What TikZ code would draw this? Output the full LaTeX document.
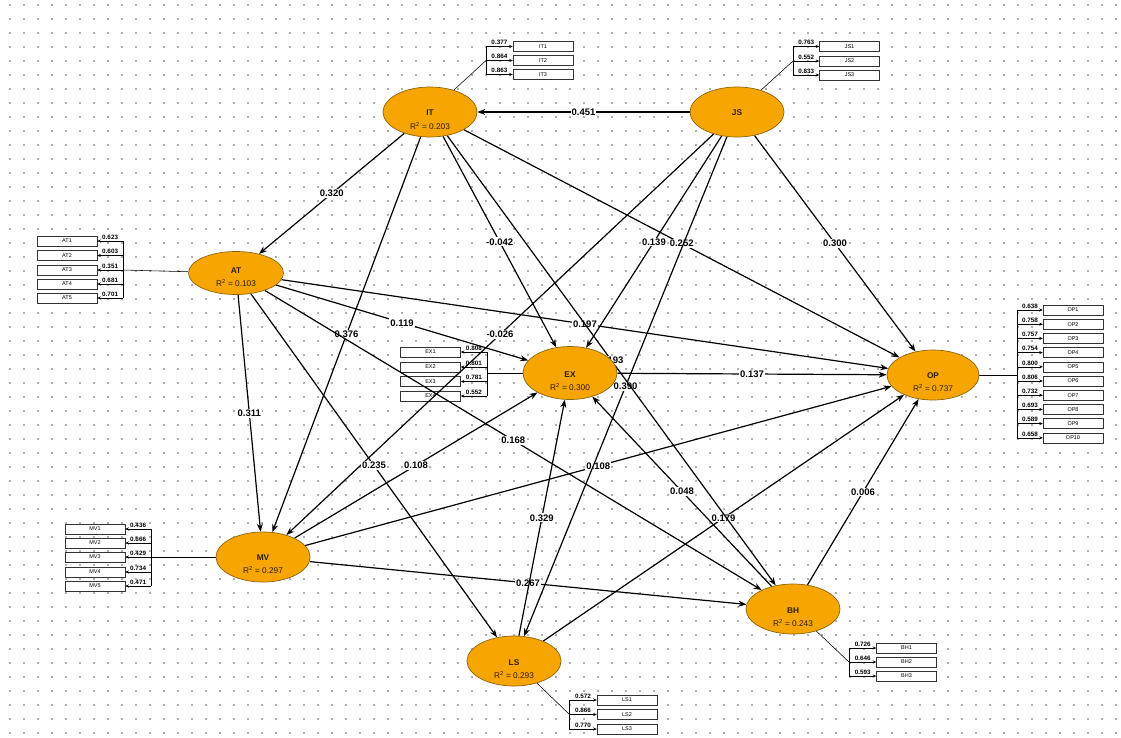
\documentclass[tikz,border=0pt]{standalone}
\usepackage{fontspec}
\setmainfont{Liberation Sans}
\usetikzlibrary{arrows.meta,shapes.geometric}
\pgfdeclarelayer{bg}
\pgfdeclarelayer{edges}
\pgfsetlayers{bg,edges,main}
\definecolor{lvfill}{RGB}{247,165,0}
\definecolor{lvborder}{RGB}{140,100,10}
\definecolor{lvtext}{RGB}{45,30,0}
\definecolor{griddot}{RGB}{175,175,175}
\tikzset{
  lv/.style={ellipse, draw=lvborder, fill=lvfill, line width=0.7pt,
             minimum width=94, minimum height=50, inner sep=0pt},
  lvname/.style={inner sep=0pt, text=lvtext, font=\bfseries\fontsize{8.3}{9}\selectfont},
  lvr/.style={inner sep=0pt, text=lvtext, font=\fontsize{8.3}{9}\selectfont},
  ind/.style={rectangle, draw=black!80, fill=white, line width=0.5pt,
              minimum width=60, minimum height=10, inner sep=0pt,
              font=\fontsize{5.5}{6}\selectfont},
  path/.style={draw=black, line width=1.2pt,
               -{Stealth[length=8pt,width=6pt]}},
  plbl/.style={fill=white, inner sep=1pt, text=black,
               font=\bfseries\fontsize{9.5}{10}\selectfont},
  outer/.style={draw=black, line width=0.55pt},
  outarrow/.style={draw=black, line width=0.55pt,
                   -{Stealth[length=3.5pt,width=3pt]}},
  olbl/.style={inner sep=0.5pt, above=0.8pt,
               font=\bfseries\fontsize{6.3}{7}\selectfont}
}
\begin{document}
\begin{tikzpicture}[x=1pt,y=-1pt]
\useasboundingbox (0,0) rectangle (1121,737);

% background with dotted grid
\begin{pgfonlayer}{bg}
  \fill[white] (0,0) rectangle (1121,737);
  \foreach \i in {0,...,79}{
    \foreach \j in {0,...,52}{
      \fill[griddot] (9+14*\i,4+14*\j) rectangle +(1.5,1.5);
    }
  }
\end{pgfonlayer}

% latent variables
\node[lv] (IT) at (430,112) {};
\node[lvname] (ITn) at (430,113) {IT};
\node[lvr] (ITr) at (430,126) {R\textsuperscript{2} = 0.203};

\node[lv] (JS) at (737,112) {};
\node[lvname] (JSn) at (737,113) {JS};

\node[lv, minimum width=95, minimum height=43] (AT) at (236,273) {};
\node[lvname] (ATn) at (236,271) {AT};
\node[lvr] (ATr) at (236,283) {R\textsuperscript{2} = 0.103};

\node[lv, minimum height=53] (EX) at (570,373) {};
\node[lvname] (EXn) at (570,375) {EX};
\node[lvr] (EXr) at (570,387) {R\textsuperscript{2} = 0.300};

\node[lv, minimum width=92] (OP) at (933,375) {};
\node[lvname] (OPn) at (933,376) {OP};
\node[lvr] (OPr) at (933,388) {R\textsuperscript{2} = 0.737};

\node[lv] (MV) at (263,557) {};
\node[lvname] (MVn) at (263,558) {MV};
\node[lvr] (MVr) at (263,570) {R\textsuperscript{2} = 0.297};

\node[lv] (BH) at (793,609) {};
\node[lvname] (BHn) at (793,611) {BH};
\node[lvr] (BHr) at (793,623) {R\textsuperscript{2} = 0.243};

\node[lv] (LS) at (514,661) {};
\node[lvname] (LSn) at (514,663) {LS};
\node[lvr] (LSr) at (514,675) {R\textsuperscript{2} = 0.293};

% indicators and outer loadings
\begin{pgfonlayer}{edges}
  % IT
  \coordinate (ITj) at (486,60.5);
  \foreach \n/\y/\v in {1/46.5/0.377, 2/60.5/0.864, 3/74.5/0.863}{
    \node[ind] (IT\n) at (543,\y) {IT\n};
    \coordinate (ITj\n) at (486,\y);
    \draw[outarrow] (ITj\n) -- node[olbl]{\v} (IT\n.west);
  }
  \draw[outer] (ITj1) -- (ITj3);
  \draw[outer] (IT) -- (ITj);

  % JS
  \coordinate (JSj) at (793,61);
  \foreach \n/\y/\v in {1/46.5/0.763, 2/61/0.552, 3/75/0.833}{
    \node[ind] (JS\n) at (849.5,\y) {JS\n};
    \coordinate (JSj\n) at (793,\y);
    \draw[outarrow] (JSj\n) -- node[olbl]{\v} (JS\n.west);
  }
  \draw[outer] (JSj1) -- (JSj3);
  \draw[outer] (JS) -- (JSj);

  % AT
  \coordinate (ATj) at (123,270);
  \foreach \n/\y/\v in {1/241/0.623, 2/255.5/0.603, 3/270/0.351, 4/284/0.681, 5/298/0.701}{
    \node[ind] (AT\n) at (67,\y) {AT\n};
    \coordinate (ATj\n) at (123,\y);
    \draw[outarrow] (ATj\n) -- node[olbl]{\v} (AT\n.east);
  }
  \draw[outer] (ATj1) -- (ATj5);
  \draw[outer] (AT) -- (ATj);

  % EX
  \coordinate (EXj) at (487,373);
  \foreach \n/\y/\v in {1/352/0.808, 2/367/0.801, 3/381.5/0.781, 4/396/0.552}{
    \node[ind] (EX\n) at (430.5,\y) {EX\n};
    \coordinate (EXj\n) at (487,\y);
    \draw[outarrow] (EXj\n) -- node[olbl]{\v} (EX\n.east);
  }
  \draw[outer] (EXj1) -- (EXj4);
  \draw[outer] (EX) -- (EXj);

  % OP
  \coordinate (OPj) at (1017,375);
  \foreach \n/\v [count=\k from 0] in {1/0.638, 2/0.758, 3/0.757, 4/0.754, 5/0.800,
                                       6/0.806, 7/0.732, 8/0.693, 9/0.589, 10/0.658}{
    \node[ind] (OP\n) at (1073,310+14.2*\k) {OP\n};
    \coordinate (OPj\n) at (1017,310+14.2*\k);
    \draw[outarrow] (OPj\n) -- node[olbl]{\v} (OP\n.west);
  }
  \draw[outer] (OPj1) -- (OPj10);
  \draw[outer] (OP) -- (OPj);

  % MV
  \coordinate (MVj) at (151,557);
  \foreach \n/\y/\v in {1/529/0.436, 2/543/0.666, 3/557/0.429, 4/572/0.734, 5/586/0.471}{
    \node[ind] (MV\n) at (95,\y) {MV\n};
    \coordinate (MVj\n) at (151,\y);
    \draw[outarrow] (MVj\n) -- node[olbl]{\v} (MV\n.east);
  }
  \draw[outer] (MVj1) -- (MVj5);
  \draw[outer] (MV) -- (MVj);

  % BH
  \coordinate (BHj) at (849,662);
  \foreach \n/\y/\v in {1/648/0.726, 2/662/0.646, 3/676/0.593}{
    \node[ind] (BH\n) at (906.5,\y) {BH\n};
    \coordinate (BHj\n) at (849,\y);
    \draw[outarrow] (BHj\n) -- node[olbl]{\v} (BH\n.west);
  }
  \draw[outer] (BHj1) -- (BHj3);
  \draw[outer] (BH) -- (BHj);

  % LS
  \coordinate (LSj) at (569,714);
  \foreach \n/\y/\v in {1/700/0.572, 2/714.5/0.866, 3/729/0.770}{
    \node[ind] (LS\n) at (627,\y) {LS\n};
    \coordinate (LSj\n) at (569,\y);
    \draw[outarrow] (LSj\n) -- node[olbl]{\v} (LS\n.west);
  }
  \draw[outer] (LSj1) -- (LSj3);
  \draw[outer] (LS) -- (LSj);

  % structural paths
  \draw[path] (JS) -- node[plbl]{0.451} (IT);
  \draw[path] (IT) -- node[plbl]{0.320} (AT);
  \draw[path] (IT) -- node[plbl]{0.376} (MV);
  \draw[path] (IT) -- node[plbl]{-0.042} (EX);
  \draw[path] (IT) -- node[plbl]{0.252} (OP);
  \draw[path] (JS) -- node[plbl]{0.139} (EX);
  \draw[path] (JS) -- node[plbl]{-0.026} (MV);
  \draw[path] (JS) -- node[plbl]{0.300} (OP);
  \draw[path] (AT) -- node[plbl]{0.311} (MV);
  \draw[path] (AT) -- node[plbl]{0.119} (EX);
  \draw[path] (AT) -- node[plbl]{0.197} (OP);
  \draw[path] (AT) -- node[plbl]{0.168} (BH);
  \draw[path] (AT) -- node[plbl]{0.235} (LS);
  \draw[path] (MV) -- node[plbl]{0.108} (EX);
  \draw[path] (MV) -- node[plbl]{0.108} (OP);
  \draw[path] (MV) -- node[plbl]{0.267} (BH);
  \draw[path] (EX) -- node[plbl]{0.137} (OP);
  \draw[path] (LS) -- node[plbl]{0.329} (EX);
  \draw[path] (LS) -- node[plbl]{0.179} (OP);
  \draw[path] (BH) -- node[plbl]{0.048} (EX);
  \draw[path] (BH) -- node[plbl]{0.006} (OP);
  \draw[path] (JS) -- node[plbl]{0.390} (LS);
  \draw[path] (IT) -- node[plbl]{0.193} (BH);
\end{pgfonlayer}
\end{tikzpicture}
\end{document}
